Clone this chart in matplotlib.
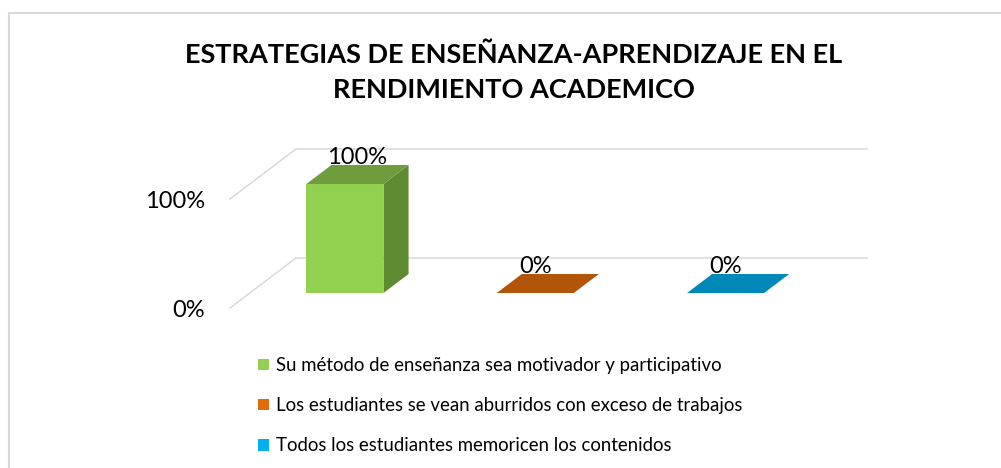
"""3D-style column chart: estrategias de enseñanza-aprendizaje (Agg backend)."""
import matplotlib
matplotlib.use("Agg")
import matplotlib.pyplot as plt
from matplotlib.lines import Line2D
from matplotlib.patches import Patch, Polygon

# --- data -----------------------------------------------------------------
categories = [
    "Su método de enseñanza sea motivador y participativo",
    "Los estudiantes se vean aburridos con exceso de trabajos",
    "Todos los estudiantes memoricen los contenidos",
]
values = [1.00, 0.00, 0.00]
value_labels = ["100%", "0%", "0%"]
y_ticks = [0.0, 1.0]
y_tick_labels = ["0%", "100%"]
title = "ESTRATEGIAS DE ENSEÑANZA-APRENDIZAJE EN EL\nRENDIMIENTO ACADEMICO"

# colours: legend / front face, side face, top face
_FRONT = ["#92d050", "#e26b0a", "#00b0f0"]
_SIDE = ["#5e8a31", "#a04c08", "#0079a6"]
_TOP = ["#6f9c3d", "#b25508", "#0088b8"]
_GRID = "#d9d9d9"
_FONT = "Lato"

# oblique projection: depth s = 0 at back wall, 1 at front of floor
DDX, DDY = 0.347, 0.459
S_BACK, S_FRONT = 0.32, 0.70
HALF_W = 0.2025


def _p(x, v, s):
    return (x - s * DDX, v - s * DDY)


W, H = 1001, 468
fig = plt.figure(figsize=(W / 100, H / 100), dpi=100)
ax = fig.add_axes([200 / W, (H - 330) / H, 700 / W, 200 / H])
ax.set_xlim(-1.0044, 2.6735)
ax.set_ylim(-0.6606, 1.1743)
ax.axis("off")

# gridlines: back wall + left side wall
n = len(categories)
for v in y_ticks:
    ax.plot([-0.5, n - 0.5], [v, v], color=_GRID, lw=1.1, zorder=1)
    ax.plot(*zip(_p(-0.5, v, 0), _p(-0.5, v, 1)), color=_GRID, lw=1.1, zorder=1)

for v, lab in zip(y_ticks, y_tick_labels):
    x, y = _p(-0.5, v, 1)
    ax.text(x - 0.131, y, lab, ha="right", va="center_baseline",
            fontsize=17, family=_FONT, color="#000000")

# bars
for i, v in enumerate(values):
    l, r = i - HALF_W, i + HALF_W
    front = [_p(l, 0, S_FRONT), _p(r, 0, S_FRONT), _p(r, v, S_FRONT), _p(l, v, S_FRONT)]
    side = [_p(r, 0, S_FRONT), _p(r, 0, S_BACK), _p(r, v, S_BACK), _p(r, v, S_FRONT)]
    top = [_p(l, v, S_FRONT), _p(r, v, S_FRONT), _p(r, v, S_BACK), _p(l, v, S_BACK)]
    if v > 0:
        ax.add_patch(Polygon(front, closed=True, fc=_FRONT[i], ec="none", zorder=3))
        ax.add_patch(Polygon(side, closed=True, fc=_SIDE[i], ec="none", zorder=3))
    ax.add_patch(Polygon(top, closed=True, fc=_TOP[i], ec="none", zorder=3))
    # Excel puts flat (0) labels over the front edge, tall ones mid-depth
    lx, _ = _p(i, v, 0.52 if v > 0 else 0.70)
    ax.text(lx, v - S_BACK * DDY + 0.01, value_labels[i], ha="center", va="baseline",
            fontsize=17, family=_FONT, color="#000000", zorder=4)

# title
fig.text(514 / W, 1 - 72 / H, title, ha="center", va="center", fontsize=19.5,
         fontweight="bold", family=_FONT, linespacing=1.55)

# legend
handles = [Patch(facecolor=c, edgecolor="none") for c in _FRONT]
fig.legend(handles, categories, loc="upper left",
           bbox_to_anchor=(258 / W, 1 - 357 / H), frameon=False,
           prop={"family": _FONT, "size": 13.4}, handlelength=0.6,
           handleheight=0.6, handletextpad=0.35, labelspacing=1.24,
           borderaxespad=0, borderpad=0)

# chart-area border (top and left edges visible)
fig.add_artist(Line2D([9 / W, 1], [1 - 13 / H] * 2, color=_GRID, lw=1.5))
fig.add_artist(Line2D([9 / W] * 2, [0, 1 - 13 / H], color=_GRID, lw=1.5))

fig.savefig("out.png", dpi=100)
plt.close(fig)
